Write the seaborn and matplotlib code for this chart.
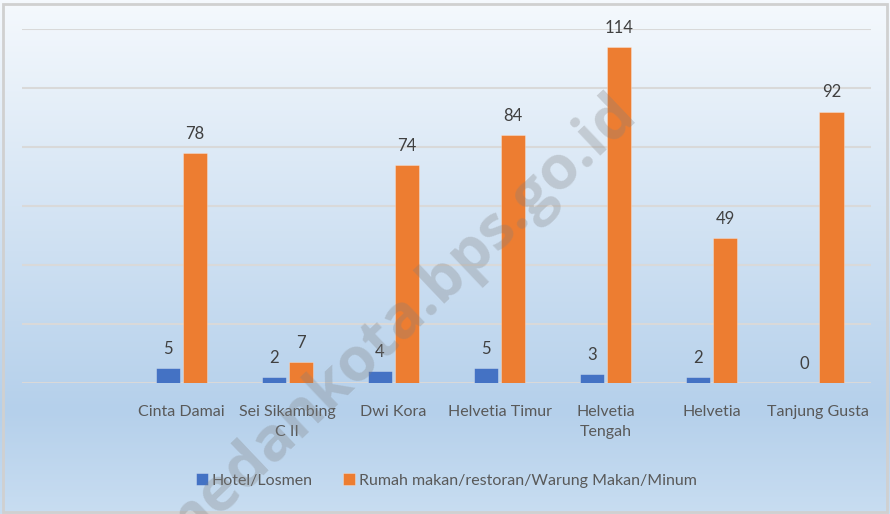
import numpy as np
import pandas as pd
import matplotlib
matplotlib.use("Agg")
import matplotlib.pyplot as plt
import seaborn as sns
from matplotlib.patches import Rectangle
from matplotlib.colors import LinearSegmentedColormap

categories = ["", "Cinta Damai", "Sei Sikambing\nC II", "Dwi Kora", "Helvetia Timur",
              "Helvetia\nTengah", "Helvetia", "Tanjung Gusta"]
hotel = [np.nan, 5, 2, 4, 5, 3, 2, 0]
rumah_makan = [np.nan, 78, 7, 74, 84, 114, 49, 92]
series_names = ["Hotel/Losmen", "Rumah makan/restoran/Warung Makan/Minum"]
colors = ["#4472C4", "#ED7D31"]

df = pd.DataFrame({
    "Kelurahan": categories * 2,
    "Jenis": [series_names[0]] * len(categories) + [series_names[1]] * len(categories),
    "Jumlah": hotel + rumah_makan,
})
df = df.dropna()

sns.set_theme(style="white")
plt.rcParams["font.family"] = ["Lato", "DejaVu Sans"]

fig = plt.figure(figsize=(8.9, 5.14), dpi=100)

# gradient background
bg = fig.add_axes([0, 0, 1, 1], zorder=0)
cmap = LinearSegmentedColormap.from_list(
    "bg", [(0.0, (245/255, 249/255, 253/255)), (0.8, (181/255, 208/255, 235/255)),
           (1.0, (200/255, 221/255, 241/255))])
grad = np.linspace(0, 1, 256).reshape(-1, 1)
bg.imshow(grad, aspect="auto", cmap=cmap, extent=[0, 1, 0, 1], origin="upper")
bg.add_patch(Rectangle((0.003, 0.003), 0.994, 0.990, fill=False, edgecolor="#d0d0d0",
                       linewidth=2, transform=bg.transAxes))
bg.set_axis_off()

ax = fig.add_axes([22/890, 1 - 383/514, (871-22)/890, (383-29)/514], zorder=1)
ax.patch.set_alpha(0)
sns.barplot(data=df, x="Kelurahan", y="Jumlah", hue="Jenis", order=categories,
            hue_order=series_names, palette=colors, width=0.51, gap=0.11,
            saturation=1, ax=ax, legend=True, zorder=3, linewidth=0.6,
            edgecolor=(1, 1, 1, 0.35))

ax.set_ylim(0, 120)
ax.set_xlim(-0.5, len(categories) - 0.5)
ax.set_yticks(np.arange(0, 121, 20))
ax.yaxis.grid(True, color="#d9d9d9", linewidth=1.5, zorder=0)
ax.set_axisbelow(True)
ax.tick_params(axis="y", left=False, labelleft=False)
ax.tick_params(axis="x", bottom=False, pad=10, labelsize=11.5, labelcolor="#595959")
for lab in ax.get_xticklabels():
    lab.set_linespacing(1.55)
for s in ax.spines.values():
    s.set_visible(False)
ax.set_xlabel("")
ax.set_ylabel("")

for cont in ax.containers:
    ax.bar_label(cont, fmt="%d", padding=8, fontsize=12, color="#404040")

ax.legend(loc="upper center", bbox_to_anchor=(0.5, -0.215), ncol=2, frameon=False,
          fontsize=11.5, labelcolor="#595959", handlelength=0.75, handleheight=0.75,
          handletextpad=0.25, columnspacing=1.9)

fig.text(0.444, 0.369, "medankota.bps.go.id", rotation=43.5, ha="center", va="center",
         fontsize=44, fontweight="bold", color="#808080", alpha=0.3, zorder=5,
         family=["Open Sans", "DejaVu Sans"])

fig.savefig("out.png", dpi=100)
